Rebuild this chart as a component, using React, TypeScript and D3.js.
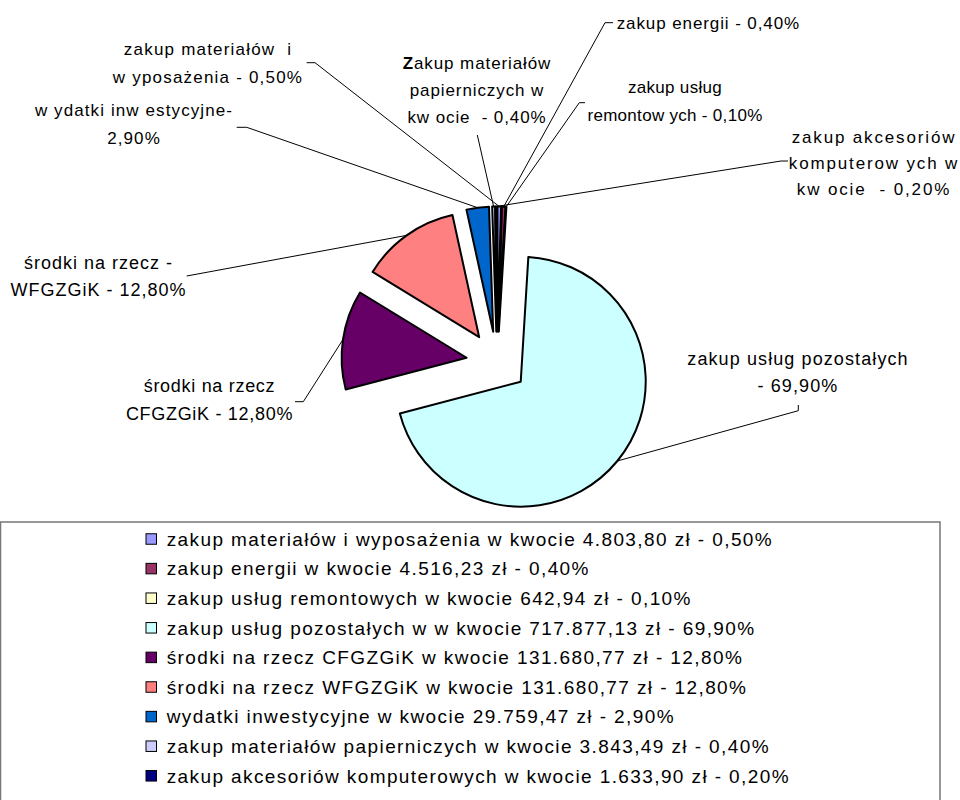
import React from "react";
import * as d3 from "d3";

const categories = [
  "zakup materiałów i wyposażenia",
  "zakup energii",
  "zakup usług remontowych",
  "zakup usług pozostałych",
  "środki na rzecz CFGZGiK",
  "środki na rzecz WFGZGiK",
  "wydatki inwestycyjne",
  "zakup materiałów papierniczych",
  "zakup akcesoriów komputerowych",
];
const amounts = [4803.8, 4516.23, 642.94, 717877.13, 131680.77, 131680.77, 29759.47, 3843.49, 1633.9];
const colors = ["#9999FF", "#993366", "#FFFFCC", "#CCFFFF", "#660066", "#FF8080", "#0066CC", "#CCCCFF", "#000080"];
const legendLabels = [
  "zakup materiałów i wyposażenia w kwocie 4.803,80 zł - 0,50%",
  "zakup energii w kwocie 4.516,23 zł - 0,40%",
  "zakup usług remontowych w kwocie 642,94 zł - 0,10%",
  "zakup usług pozostałych w w kwocie 717.877,13 zł - 69,90%",
  "środki na rzecz CFGZGiK w kwocie 131.680,77 zł - 12,80%",
  "środki na rzecz WFGZGiK w kwocie 131.680,77 zł - 12,80%",
  "wydatki inwestycyjne w kwocie 29.759,47 zł - 2,90%",
  "zakup materiałów papierniczych w kwocie 3.843,49 zł - 0,40%",
  "zakup akcesoriów komputerowych w kwocie 1.633,90 zł - 0,20%",
];
const sliceLabelLines: string[][] = [
  ["zakup materiałów  i", "w yposażenia - 0,50%"],
  ["zakup energii - 0,40%"],
  ["zakup usług", "remontow ych - 0,10%"],
  ["zakup usług pozostałych", "- 69,90%"],
  ["środki na rzecz", "CFGZGiK - 12,80%"],
  ["środki na rzecz -", "WFGZGiK - 12,80%"],
  ["w ydatki inw estycyjne-", "2,90%"],
  ["Zakup materiałów", "papierniczych w", "kw ocie  - 0,40%"],
  ["zakup akcesoriów", "komputerow ych w", "kw ocie  - 0,20%"],
];

// ---- layout (positions / styles only) ----
const W = 960;
const H = 800;
const CX = 497;
const CY = 362.2;
const R = 125;
const EXPLODE = 30.7;
const FONT = "'Liberation Sans', Arial, Helvetica, sans-serif";

type Lay = {
  x: number;
  y: number;
  dy: number;
  anchor: string;
  lead: [number, number][];
  fs: number;
  ls: number;
  boldFirst?: boolean;
};
const labelLayout: Lay[] = [
  { x: 208, y: 49, dy: 27.5, anchor: "middle", lead: [[306.7, 62.7], [315, 62.7]], fs: 17, ls: 1.2 },
  { x: 616.7, y: 22.7, dy: 27, anchor: "start", lead: [[613, 22.7], [605, 22.7]], fs: 17, ls: 0.9 },
  { x: 675, y: 87.3, dy: 27.5, anchor: "middle", lead: [[585, 102.7], [579.3, 102.7]], fs: 17, ls: 0.3 },
  { x: 798, y: 358.3, dy: 27.7, anchor: "middle", lead: [[798.3, 405], [798.3, 410.7]], fs: 18, ls: 1.1 },
  { x: 209.5, y: 385.7, dy: 27.6, anchor: "middle", lead: [[295, 401.7], [303.3, 401.7]], fs: 18, ls: 0.7 },
  { x: 98.5, y: 262.7, dy: 26.6, anchor: "middle", lead: [[186.7, 276]], fs: 18, ls: 1.0 },
  { x: 134, y: 110, dy: 28, anchor: "middle", lead: [[236.7, 127.3], [246.7, 127.3]], fs: 17, ls: 1.1 },
  { x: 477, y: 63.3, dy: 26.7, anchor: "middle", lead: [[477.3, 135]], fs: 17, ls: 0.9, boldFirst: true },
  { x: 874, y: 137, dy: 26, anchor: "middle", lead: [[788, 161], [781, 161]], fs: 17, ls: 1.85 },
];

const LEGEND = { x: 0.5, y: 522, w: 939.5, h: 300, swatchX: 146, swatch: 10.5, textX: 166.7, row0: 539, rowH: 29.6 };

export default function App() {
  const pie = d3
    .pie<number>()
    .sort(null)
    .value((d) => d)
    .startAngle(0)
    .endAngle(2 * Math.PI);
  const arcs = pie(amounts);
  const arcGen = d3.arc<d3.PieArcDatum<number>>().innerRadius(0).outerRadius(R);

  const slices = arcs.map((a, i) => {
    const mid = (a.startAngle + a.endAngle) / 2;
    const ox = Math.sin(mid) * EXPLODE;
    const oy = -Math.cos(mid) * EXPLODE;
    const ex = CX + ox + Math.sin(mid) * R;
    const ey = CY + oy - Math.cos(mid) * R;
    return { a, i, ox, oy, ex, ey };
  });

  const line = d3.line<[number, number]>();

  return (
    <div style={{ position: "absolute", left: 0, top: 0, width: W, height: H, overflow: "hidden", background: "#fff" }}>
      <svg width={W} height={H} style={{ display: "block" }}>
        <rect x={0} y={0} width={W} height={H} fill="#fff" />
        {/* leader lines */}
        {slices.map((s) => {
          const lay = labelLayout[s.i];
          const pts: [number, number][] = [...lay.lead, [s.ex, s.ey]];
          return <path key={"l" + s.i} d={line(pts) || ""} fill="none" stroke="#000" strokeWidth={1} />;
        })}
        {/* slices */}
        {slices.map((s) => (
          <path
            key={"s" + s.i}
            d={arcGen(s.a) || ""}
            transform={`translate(${CX + s.ox},${CY + s.oy})`}
            fill={colors[s.i]}
            stroke="#000"
            strokeWidth={2}
            strokeLinejoin="round"
          />
        ))}
        {/* slice labels */}
        {slices.map((s) => {
          const lay = labelLayout[s.i];
          return (
            <text
              key={"t" + s.i}
              fontFamily={FONT}
              fontSize={lay.fs}
              letterSpacing={lay.ls}
              textAnchor={lay.anchor}
              fill="#000"
              style={{ whiteSpace: "pre" }}
            >
              {sliceLabelLines[s.i].map((ln, k) => (
                <tspan key={k} x={lay.x} y={lay.y + k * lay.dy + lay.fs * 0.36}>
                  {lay.boldFirst && k === 0 ? (
                    <>
                      <tspan fontWeight="bold">{ln.charAt(0)}</tspan>
                      {ln.slice(1)}
                    </>
                  ) : (
                    ln
                  )}
                </tspan>
              ))}
            </text>
          );
        })}
        {/* legend */}
        <rect x={LEGEND.x} y={LEGEND.y} width={LEGEND.w} height={LEGEND.h} fill="#fff" stroke="#777" strokeWidth={1.5} />
        {categories.map((c, i) => {
          const cy = LEGEND.row0 + i * LEGEND.rowH;
          return (
            <g key={"g" + c}>
              <rect
                x={LEGEND.swatchX}
                y={cy - LEGEND.swatch / 2}
                width={LEGEND.swatch}
                height={LEGEND.swatch}
                fill={colors[i]}
                stroke="#000"
                strokeWidth={1}
              />
              <text x={LEGEND.textX} y={cy + 6.8} fontFamily={FONT} fontSize={19} letterSpacing={1.4} fill="#000">
                {legendLabels[i]}
              </text>
            </g>
          );
        })}
      </svg>
    </div>
  );
}
